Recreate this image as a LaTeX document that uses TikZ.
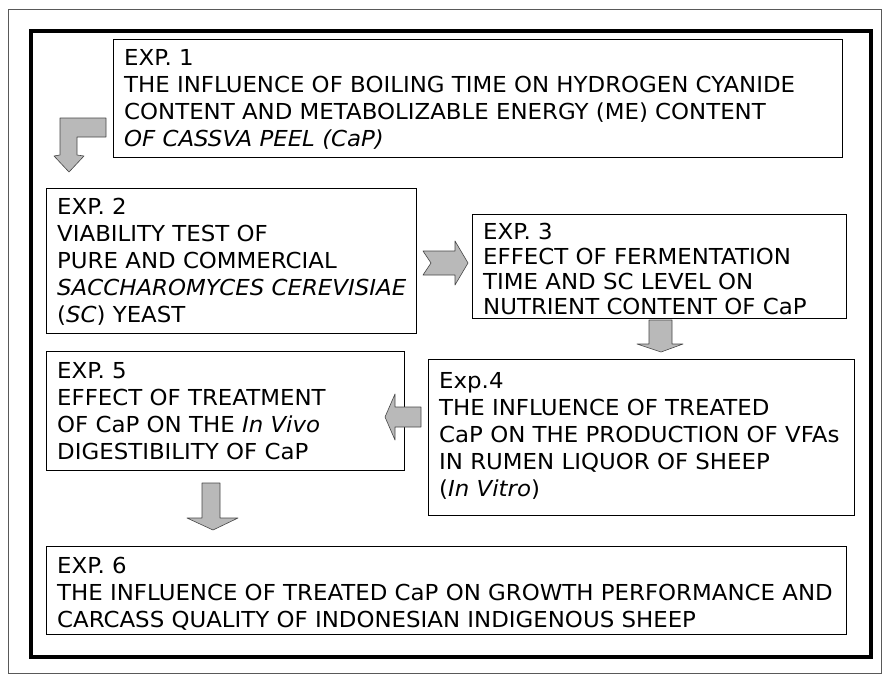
\documentclass[tikz,border=0pt]{standalone}
\usepackage{fontspec}
\setmainfont{DejaVu Sans}[FakeStretch=1.04]
\usetikzlibrary{calc}
\begin{document}
\begin{tikzpicture}[x=1pt,y=-1pt,
  box/.style={draw=black, line width=1.3pt, rectangle, inner sep=0pt, anchor=north west},
  txt/.style={font=\fontsize{22}{27}\selectfont, align=left, inner sep=0pt, anchor=north west},
  blk/.style={fill=gray!55, draw=gray!55!black, line width=0.6pt, line join=round}]
\useasboundingbox (0,0) rectangle (882,674);
% frames
\draw[gray!70!black, line width=0.8pt] (8,9) rectangle (881.5,673);
\draw[black, line width=4pt] (31,31) rectangle (871,657);
% boxes
\node[box, minimum width=729pt, minimum height=118pt] (e1) at (113,39) {};
\node[box, minimum width=370pt, minimum height=145pt] (e2) at (46,188) {};
\node[box, minimum width=374pt, minimum height=104pt] (e3) at (472,214) {};
\node[box, minimum width=426pt, minimum height=156pt] (e4) at (428,359) {};
\node[box, minimum width=358pt, minimum height=119pt] (e5) at (46,351) {};
\node[box, minimum width=800pt, minimum height=88pt] (e6) at (46,546) {};
% texts
\node[txt] (t1) at ($(e1.north west)+(11,10)$) {EXP. 1\\THE INFLUENCE OF BOILING TIME ON HYDROGEN CYANIDE\\CONTENT AND METABOLIZABLE ENERGY (ME) CONTENT\\\textit{OF CASSVA PEEL (CaP)}};
\node[txt] (t2) at ($(e2.north west)+(11,10)$) {EXP. 2\\VIABILITY TEST OF\\PURE AND COMMERCIAL\\\textit{SACCHAROMYCES CEREVISIAE}\\(\textit{SC}) YEAST};
\node[txt, font=\fontsize{22}{25}\selectfont] (t3) at ($(e3.north west)+(11,9)$) {EXP. 3\\EFFECT OF FERMENTATION\\TIME AND SC LEVEL ON\\NUTRIENT CONTENT OF CaP};
\node[txt] (t4) at ($(e4.north west)+(11,13)$) {Exp.4\\THE INFLUENCE OF TREATED\\CaP ON THE PRODUCTION OF VFAs\\IN RUMEN LIQUOR OF SHEEP\\(\textit{In Vitro})};
\node[txt] (t5) at ($(e5.north west)+(11,11)$) {EXP. 5\\EFFECT OF TREATMENT\\OF CaP ON THE \textit{In Vivo}\\DIGESTIBILITY OF CaP};
\node[txt] (t6) at ($(e6.north west)+(11,11)$) {EXP. 6\\THE INFLUENCE OF TREATED CaP ON GROWTH PERFORMANCE AND\\CARCASS QUALITY OF INDONESIAN INDIGENOUS SHEEP};
% block arrows
\draw[blk] (60,118) -- (106,118) -- (106,137) -- (77,137) -- (77,155) -- (84,156) -- (69,172) -- (54,156) -- (60,155) -- cycle;
\draw[blk] (423,251) -- (455,251) -- (455,241) -- (468,263) -- (455,285) -- (455,275) -- (423,275) -- (431,263) -- cycle;
\draw[blk] (649,320) -- (672,320) -- (672,344) -- (683,344) -- (661,352) -- (637,344) -- (649,344) -- cycle;
\draw[blk] (421,407) -- (421,427) -- (395,427) -- (395,440) -- (385,417) -- (395,394) -- (395,407) -- cycle;
\draw[blk] (202,483) -- (220,483) -- (220,518) -- (238,518) -- (213,530) -- (187,518) -- (202,518) -- cycle;
\end{tikzpicture}
\end{document}
